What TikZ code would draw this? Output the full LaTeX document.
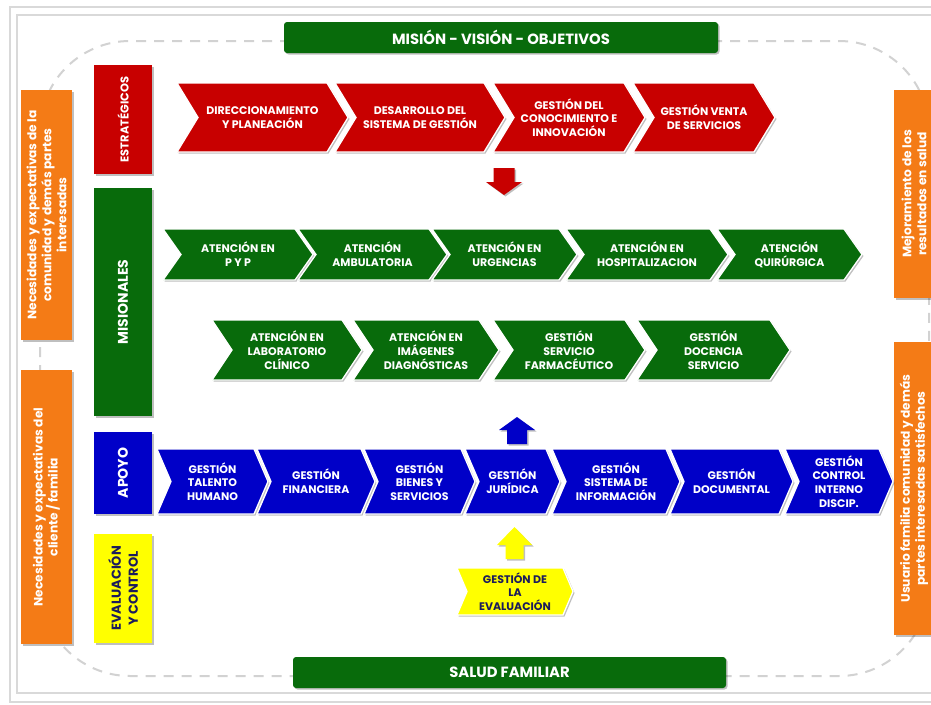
\documentclass[tikz,border=0pt]{standalone}
\usepackage{fontspec}
\setmainfont{Poppins}
\usetikzlibrary{shadows}
\definecolor{cred}{HTML}{C80000}
\definecolor{cgreen}{HTML}{086B0B}
\definecolor{cblue}{HTML}{0000C8}
\definecolor{cyel}{HTML}{FFFF00}
\definecolor{corange}{HTML}{F47B16}
\definecolor{cnavy}{HTML}{1C1C5C}
\definecolor{cframe}{HTML}{D9D9D9}
\definecolor{cdash}{HTML}{D2D2D2}
\tikzset{
  shad/.style={drop shadow={shadow xshift=1.5pt,shadow yshift=-1.5pt,opacity=0.25,fill=black}},
  chevtext/.style={font=\bfseries\fontsize{11}{13.8}\selectfont,align=center,inner sep=0pt},
  hdr/.style={fill=cgreen,text=white,font=\bfseries\fontsize{14.8}{17}\selectfont,rounded corners=3pt,inner sep=0pt,shad},
  obox/.style={fill=corange,text=white,rotate=90,inner sep=0pt,align=center,font=\bfseries\fontsize{12.2}{15}\selectfont,shad},
  cbox/.style={rotate=90,inner sep=0pt,align=center,font=\bfseries\fontsize{14}{17}\selectfont,shad},
}
\newcommand\chev[9]{%
  \fill[#7,draw=white,line width=1.3pt,shad] (#2,#4) -- ({#3-#6},#4) -- (#3,{(#4+#5)/2}) -- ({#3-#6},#5) -- (#2,#5) -- ({#2+#6},{(#4+#5)/2}) -- cycle;
  \node[chevtext,text=#8] (#1) at ({(#2+#3)/2},{(#4+#5)/2}) {#9};}
% block arrow: cx, tip y, base y, head end y, head half width, shaft half width, colour
\newcommand\blockarr[7]{%
  \fill[#7,shad] ({#1-#6},#3) -- ({#1-#6},#4) -- ({#1-#5},#4) -- (#1,#2) -- ({#1+#5},#4) -- ({#1+#6},#4) -- ({#1+#6},#3) -- cycle;}
\begin{document}
\begin{tikzpicture}[x=1pt,y=-1pt]
\useasboundingbox (0,0) rectangle (931,704);
\clip (0,0) rectangle (931,704);
\fill[white] (0,0) rectangle (931,704);
% frame
\draw[cframe,line width=2pt] (10,7) rectangle (960,702);
\draw[cframe,line width=2pt] (17,15) rectangle (960,693);
% dashed loop
\draw[cdash,line width=2pt,dash pattern=on 10pt off 8pt,rounded corners=90pt] (40,41) rectangle (929,676);
% header / footer
\node[hdr,minimum width=434pt,minimum height=31pt] (mision) at (501,37.5) {MISIÓN - VISIÓN - OBJETIVOS};
\node[hdr,minimum width=433pt,minimum height=31pt] (salud) at (509.5,672.5) {SALUD FAMILIAR};
% orange side boxes
\node[obox,minimum width=250pt,minimum height=51pt] (nec1) at (46.5,215) {Necesidades y expectativas de la\\comunidad y demás partes\\interesadas};
\node[obox,minimum width=274pt,minimum height=51pt] (nec2) at (46.5,507) {Necesidades y expectativas del\\cliente / familia};
\node[obox,minimum width=208pt,minimum height=40pt] (mej) at (914,194) {Mejoramiento de los\\resultados en salud};
\node[obox,minimum width=293pt,minimum height=40pt] (usu) at (914,488.5) {Usuario familia comunidad y demás\\partes interesadas satisfechos};
% category boxes
\node[cbox,fill=cred,text=white,minimum width=109pt,minimum height=58pt,font=\bfseries\fontsize{11.4}{14}\selectfont] (estr) at (123,119.5) {ESTRATÉGICOS};
\node[cbox,fill=cgreen,text=white,minimum width=228pt,minimum height=58pt] (mis) at (123,302) {MISIONALES};
\node[cbox,fill=cblue,text=white,minimum width=82pt,minimum height=58pt] (apo) at (123,473) {APOYO};
\node[cbox,fill=cyel,text=cnavy,minimum width=109pt,minimum height=58pt,font=\bfseries\fontsize{13}{17}\selectfont] (evc) at (123,588.5) {EVALUACIÓN\\Y CONTROL};
% red chevrons
\chev{dir}{177}{348}{83}{152}{21}{cred}{white}{DIRECCIONAMIENTO\\Y PLANEACIÓN}
\chev{des}{335}{505}{83}{152}{21}{cred}{white}{DESARROLLO DEL\\SISTEMA DE GESTIÓN}
\chev{con}{493}{645}{83}{152}{21}{cred}{white}{GESTIÓN DEL\\CONOCIMIENTO E\\INNOVACIÓN}
\chev{ven}{633}{775}{83}{152}{21}{cred}{white}{GESTIÓN VENTA\\DE SERVICIOS}
% red down arrow
\blockarr{504}{195}{168}{182}{18}{10.5}{cred}
% green row 1
\chev{pyp}{163}{313}{229}{280}{18}{cgreen}{white}{ATENCIÓN EN\\P Y P}
\chev{amb}{298}{447}{229}{280}{18}{cgreen}{white}{ATENCIÓN\\AMBULATORIA}
\chev{urg}{432}{577}{229}{280}{18}{cgreen}{white}{ATENCIÓN EN\\URGENCIAS}
\chev{hos}{566}{728}{229}{280}{18}{cgreen}{white}{ATENCIÓN EN\\HOSPITALIZACION}
\chev{qui}{717}{862}{229}{280}{18}{cgreen}{white}{ATENCIÓN\\QUIRÚRGICA}
% green row 2
\chev{lab}{212}{362}{320}{380}{20}{cgreen}{white}{ATENCIÓN EN\\LABORATORIO\\CLÍNICO}
\chev{ima}{353}{499}{320}{380}{20}{cgreen}{white}{ATENCIÓN EN\\IMÁGENES\\DIAGNÓSTICAS}
\chev{far}{493}{645}{320}{380}{20}{cgreen}{white}{GESTIÓN\\SERVICIO\\FARMACÉUTICO}
\chev{doc}{637}{790}{320}{380}{20}{cgreen}{white}{GESTIÓN\\DOCENCIA\\SERVICIO}
% blue up arrow
\blockarr{517}{417}{444}{430}{18}{10}{cblue}
% blue row
\chev{tal}{157}{268}{449}{514}{14}{cblue}{white}{GESTIÓN\\TALENTO\\HUMANO}
\chev{fin}{257}{375}{449}{514}{14}{cblue}{white}{GESTIÓN\\FINANCIERA}
\chev{bie}{364}{475}{449}{514}{14}{cblue}{white}{GESTIÓN\\BIENES Y\\SERVICIOS}
\chev{jur}{465}{560}{449}{514}{14}{cblue}{white}{GESTIÓN\\JURÍDICA}
\chev{sis}{552}{680}{449}{514}{14}{cblue}{white}{GESTIÓN\\SISTEMA DE\\INFORMACIÓN}
\chev{dcm}{670}{793}{449}{514}{14}{cblue}{white}{GESTIÓN\\DOCUMENTAL}
\chev{cin}{785}{893}{449}{514}{14}{cblue}{white}{GESTIÓN\\CONTROL\\INTERNO\\DISCIP.}
% yellow up arrow
\blockarr{514.5}{527}{559}{545}{17.5}{9}{cyel}
% yellow chevron
\chev{eva}{457}{573}{568}{615}{10}{cyel}{cnavy}{GESTIÓN DE\\LA\\EVALUACIÓN}
\end{tikzpicture}
\end{document}
